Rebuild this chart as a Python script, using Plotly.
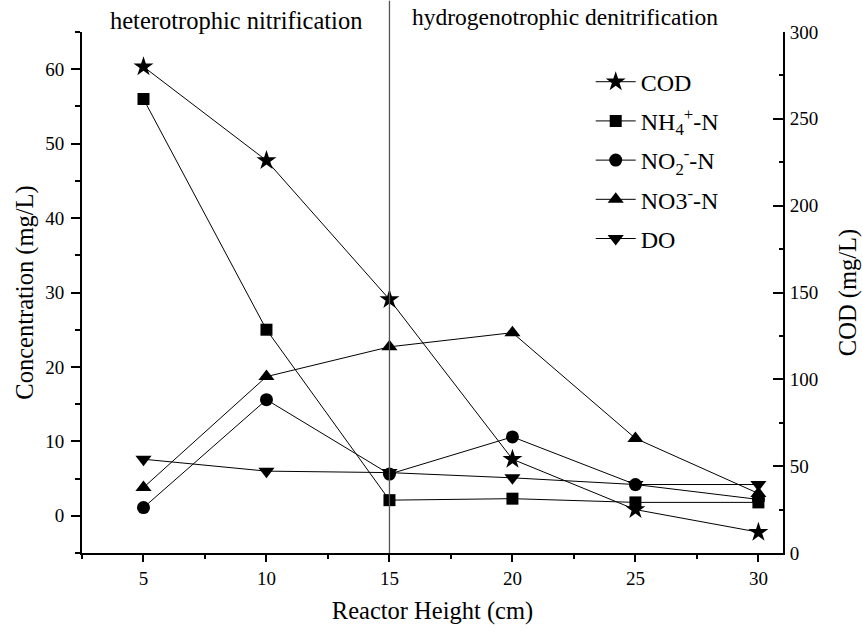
import plotly.graph_objects as go

# Data
height_cm = [5, 10, 15, 20, 25, 30]
cod = [280, 226, 146, 54, 25, 12]          # right axis (mg/L)
nh4 = [56, 25, 2.1, 2.3, 1.8, 1.8]         # left axis
no2 = [1.1, 15.6, 5.6, 10.6, 4.2, 2.2]
no3 = [3.8, 18.7, 22.7, 24.6, 10.4, 3.0]
do_ = [7.6, 6.0, 5.8, 5.1, 4.2, 4.2]

series_names = ["COD", "NH<sub>4</sub><sup>+</sup>-N", "NO<sub>2</sub><sup>-</sup>-N",
                "NO3<sup>-</sup>-N", "DO"]
symbols = ["star", "square", "circle", "triangle-up", "triangle-down"]
marker_sizes = [15, 12, 13, 14, 14]

FONT = "Liberation Serif"

fig = go.Figure()
all_series = [cod, nh4, no2, no3, do_]
for i, (vals, name, sym, ms) in enumerate(zip(all_series, series_names, symbols, marker_sizes)):
    fig.add_trace(go.Scatter(
        x=height_cm, y=vals, name=name, mode="lines+markers",
        yaxis="y2" if i == 0 else "y",
        line=dict(color="black", width=1),
        marker=dict(symbol=sym, size=ms, color="black"),
        legendgroup=f"g{i}",
    ))

# boundary between the two zones
fig.add_shape(type="line", xref="x", yref="paper", x0=15, x1=15, y0=0, y1=1.06,
              line=dict(color="#555555", width=1.3))

fig.add_annotation(text="heterotrophic nitrification", xref="paper", yref="paper",
                   x=0.0367, y=1.022, xanchor="left", yanchor="middle", showarrow=False,
                   font=dict(family=FONT, size=24.5, color="black"))
fig.add_annotation(text="hydrogenotrophic denitrification", xref="paper", yref="paper",
                   x=0.4677, y=1.028, xanchor="left", yanchor="middle", showarrow=False,
                   font=dict(family=FONT, size=23.5, color="black"))

fig.update_layout(
    width=863, height=632,
    margin=dict(l=82, r=80, t=32, b=79, autoexpand=False),
    paper_bgcolor="white", plot_bgcolor="white",
    font=dict(family=FONT, color="black", size=19),
    showlegend=True,
    legend=dict(x=0.7257, y=0.947, xanchor="left", yanchor="top",
                font=dict(family=FONT, size=24, color="black"),
                bgcolor="rgba(0,0,0,0)", tracegroupgap=5, itemwidth=40),
    xaxis=dict(
        range=[2.5, 31], tickmode="linear", tick0=5, dtick=5,
        showline=True, linecolor="black", linewidth=1.8, mirror=False,
        ticks="outside", ticklen=7, tickwidth=1.5, tickcolor="black",
        minor=dict(ticks="outside", ticklen=4, tick0=2.5, dtick=2.5, tickcolor="black", tickwidth=1.5),
        showgrid=False, zeroline=False, automargin=False,
        tickfont=dict(family=FONT, size=19),
        title=dict(text="Reactor Height (cm)", font=dict(family=FONT, size=24.5), standoff=14),
    ),
    yaxis=dict(
        range=[-5, 65],
        showline=True, linecolor="black", linewidth=1.8,
        ticks="outside", ticklen=9, tickwidth=1.5, tickcolor="black",
        minor=dict(ticks="outside", ticklen=5, tick0=-5, dtick=5, tickcolor="black", tickwidth=1.5),
        showgrid=False, zeroline=False, automargin=False,
        tickvals=[0, 10, 20, 30, 40, 50, 60],
        tickfont=dict(family=FONT, size=19),
        ticklabelstandoff=3,
        title=dict(text="Concentration (mg/L)", font=dict(family=FONT, size=24.5), standoff=5),
    ),
    yaxis2=dict(
        range=[0, 300], overlaying="y", side="right", tickmode="linear", tick0=0, dtick=50,
        showline=True, linecolor="black", linewidth=1.8,
        ticks="inside", ticklen=10, tickwidth=1.5, tickcolor="black",
        minor=dict(ticks="inside", ticklen=4, tick0=25, dtick=25, tickcolor="black", tickwidth=1.5),
        showgrid=False, zeroline=False, automargin=False,
        tickfont=dict(family=FONT, size=19),
        ticklabelstandoff=1,
        title=dict(text="COD (mg/L)", font=dict(family=FONT, size=24.5), standoff=22),
    ),
)

fig.write_html("out.html", config={"displayModeBar": False},
               post_script="document.body.style.margin='0';")
